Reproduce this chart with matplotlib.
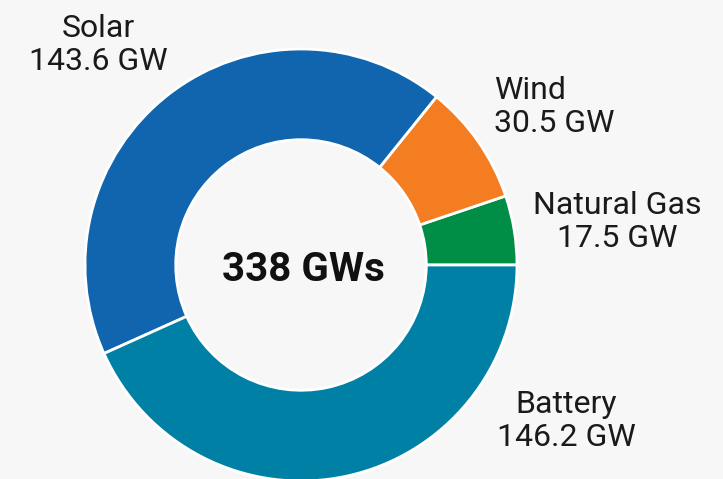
import matplotlib
matplotlib.use("Agg")
import matplotlib.pyplot as plt
from matplotlib import font_manager

categories = ["Natural Gas", "Wind", "Solar", "Battery"]
values = [17.5, 30.5, 143.6, 146.2]
labels = ["Natural Gas\n17.5 GW", "Wind\n30.5 GW", "Solar\n143.6 GW", "Battery\n146.2 GW"]
colors = ["#008E47", "#F47D22", "#1065AE", "#0080A5"]
center_label = "338 GWs"

avail = {f.name for f in font_manager.fontManager.ttflist}
fam = [f for f in ["Liberation Sans Narrow", "Roboto", "DejaVu Sans"] if f in avail]

W, H = 723, 479
fig = plt.figure(figsize=(W / 100, H / 100), dpi=100, facecolor="#F7F7F7")
ax = fig.add_axes([0, 0, 1, 1])
ax.set_facecolor("#F7F7F7")

cx, cy, R = 301, H - 265, 216
ax.pie(values, colors=colors, startangle=0, counterclock=True,
       center=(cx, cy), radius=R, frame=True,
       wedgeprops=dict(width=R * 0.42, edgecolor="white", linewidth=2))
ax.set_xlim(0, W)
ax.set_ylim(0, H)
ax.set_aspect("equal")
ax.axis("off")

fs = 23
pos = {
    "Natural Gas": (617, 222, "center"),
    "Wind": (494, 107, "left"),
    "Solar": (98, 45, "center"),
    "Battery": (566, 421, "center"),
}
for cat, lab in zip(categories, labels):
    x, y, ha = pos[cat]
    ax.text(x, H - y, lab, ha=ha, va="center", fontsize=fs, color="#1a1a1a",
            family=fam, linespacing=1.15, multialignment=ha)

ax.text(cx + 2, H - 270, center_label, ha="center", va="center", fontsize=29,
        fontweight="bold", color="#111111", family=fam)

fig.savefig("out.png", dpi=100, facecolor=fig.get_facecolor())
